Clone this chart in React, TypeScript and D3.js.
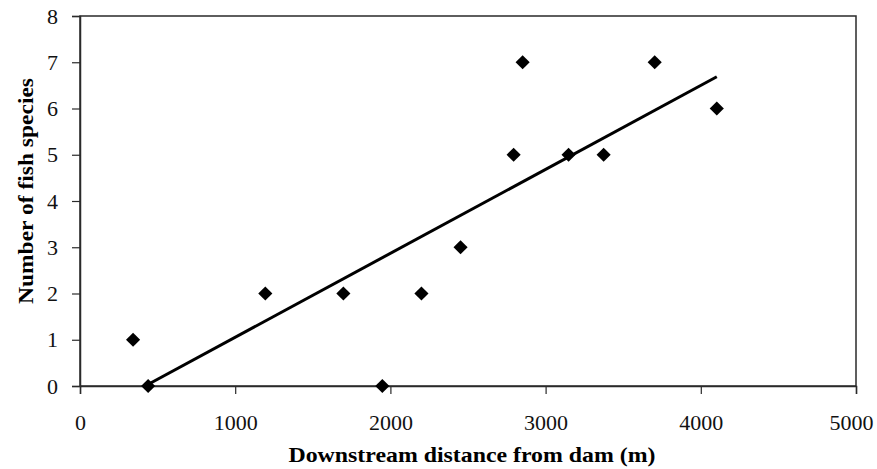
import { useRef, useEffect } from "react";
import * as d3 from "d3";

// distance downstream (m) and species count
const distance = [342, 439, 1194, 1697, 1948, 2200, 2452, 2794, 2852, 3148, 3374, 3703, 4103];
const species = [1, 0, 2, 2, 0, 2, 3, 5, 7, 5, 5, 7, 6];
const xTicks = [0, 1000, 2000, 3000, 4000, 5000];
const yTicks = [0, 1, 2, 3, 4, 5, 6, 7, 8];

export default function App() {
  const ref = useRef<HTMLDivElement>(null);

  useEffect(() => {
    d3.select(ref.current).selectAll("*").remove();

    const W = 877, H = 469;
    const margin = { top: 16, right: 21, bottom: 83, left: 80 };
    const width = W - margin.left - margin.right;
    const height = H - margin.top - margin.bottom;
    const font = "'Liberation Serif', 'Times New Roman', serif";

    const root = d3.select(ref.current)
      .append("svg")
      .attr("width", W)
      .attr("height", H)
      .style("display", "block")
      .style("background", "#fff");

    const svg = root.append("g")
      .attr("transform", `translate(${margin.left},${margin.top})`);

    const x = d3.scaleLinear().domain([0, 5000]).range([0, width]);
    const y = d3.scaleLinear().domain([0, 8]).range([height, 0]);

    // plot frame
    svg.append("rect")
      .attr("width", width)
      .attr("height", height)
      .attr("fill", "none")
      .attr("stroke", "#2a2a2a")
      .attr("stroke-width", 1.5);

    const xAxis = svg.append("g")
      .attr("transform", `translate(0,${height})`)
      .call(d3.axisBottom(x).tickValues(xTicks).tickSize(8).tickPadding(20).tickFormat(d3.format("d")));
    const yAxis = svg.append("g")
      .call(d3.axisLeft(y).tickValues(yTicks).tickSize(8).tickPadding(14).tickFormat(d3.format("d")));

    [xAxis, yAxis].forEach((g) => {
      g.select(".domain").attr("stroke", "#2a2a2a").attr("stroke-width", 1.5);
      g.selectAll(".tick line").attr("stroke", "#2a2a2a").attr("stroke-width", 1.2);
      g.selectAll(".tick text")
        .attr("font-family", font)
        .attr("font-size", 22)
        .attr("fill", "#111");
    });
    // last label is nudged in so it stays inside the picture
    xAxis.selectAll<SVGTextElement, number>(".tick text")
      .filter((d) => d === 5000)
      .attr("dx", -5);

    // least squares trend line, clipped at y = 0
    const mx = d3.mean(distance)!;
    const my = d3.mean(species)!;
    const sxy = d3.sum(distance, (d, i) => (d - mx) * (species[i] - my));
    const sxx = d3.sum(distance, (d) => (d - mx) * (d - mx));
    const slope = sxy / sxx;
    const icpt = my - slope * mx;
    const x0 = Math.max(d3.min(distance)!, -icpt / slope);
    const x1 = d3.max(distance)!;

    svg.append("path")
      .datum([x0, x1])
      .attr("fill", "none")
      .attr("stroke", "#000")
      .attr("stroke-width", 3)
      .attr("d", d3.line<number>().x((d) => x(d)).y((d) => y(icpt + slope * d)));

    const diamond = d3.symbol().type(d3.symbolSquare).size(100);
    svg.append("g")
      .selectAll("path")
      .data(distance)
      .join("path")
      .attr("d", diamond)
      .attr("transform", (d, i) => `translate(${x(d)},${y(species[i])}) rotate(45)`)
      .attr("fill", "#000");

    svg.append("text")
      .attr("x", width / 2 + 4)
      .attr("y", height + 76)
      .attr("text-anchor", "middle")
      .attr("font-family", font)
      .attr("font-weight", "bold")
      .attr("font-size", 21)
      .attr("textLength", 367)
      .attr("lengthAdjust", "spacingAndGlyphs")
      .text("Downstream distance from dam (m)");

    svg.append("text")
      .attr("transform", `translate(${-47},${height / 2 - 10}) rotate(-90)`)
      .attr("text-anchor", "middle")
      .attr("font-family", font)
      .attr("font-weight", "bold")
      .attr("font-size", 22)
      .attr("textLength", 226)
      .attr("lengthAdjust", "spacingAndGlyphs")
      .text("Number of fish species");
  }, []);

  return <div ref={ref} style={{ position: "absolute", left: 0, top: 0 }}></div>;
}
